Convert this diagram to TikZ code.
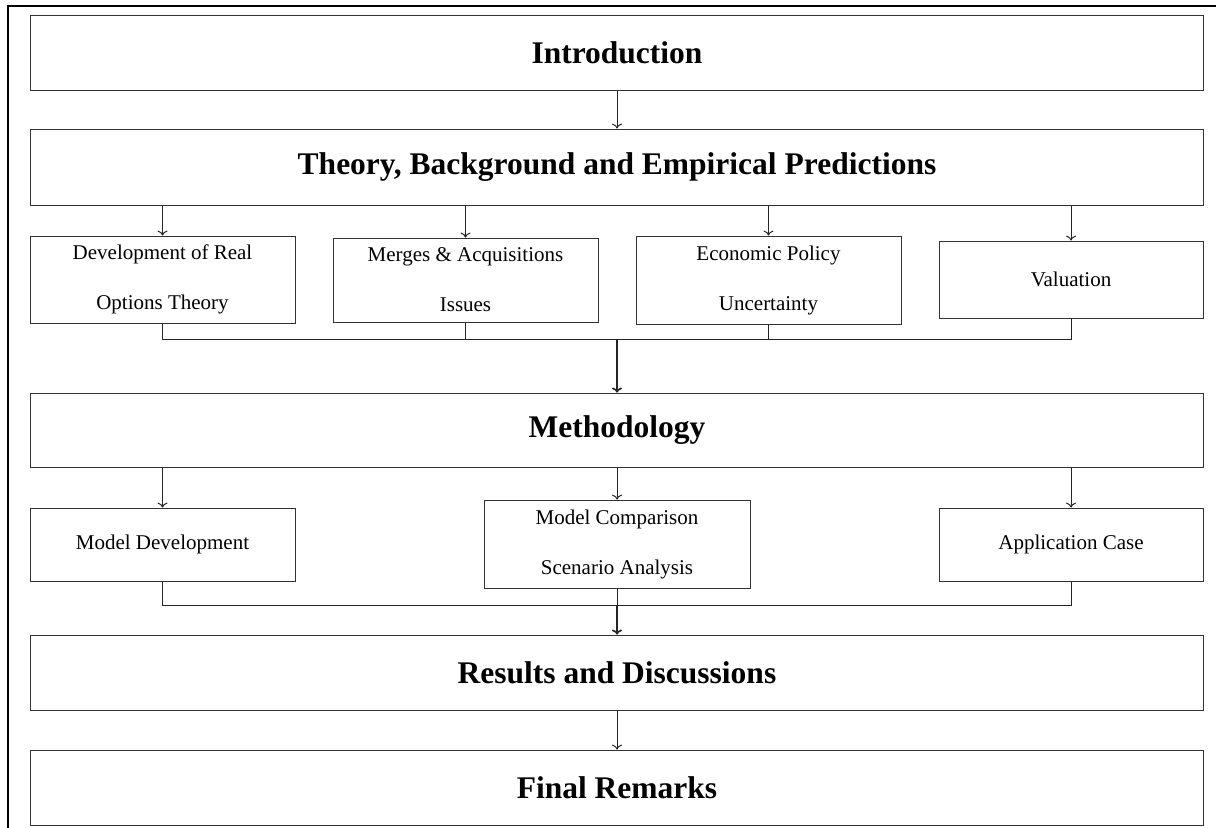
\documentclass[tikz,border=0pt]{standalone}
\usepackage{fontspec}
\setmainfont{Liberation Serif}
\usetikzlibrary{arrows.meta,calc}

\tikzset{
  bigbox/.style={draw=black!80, minimum width=586.5pt, minimum height=37.5pt, inner sep=0pt,
    font=\fontsize{15.75pt}{19pt}\selectfont\bfseries},
  subbox/.style={draw=black!80, minimum width=132.5pt, inner sep=0pt, align=center,
    font=\fontsize{10.5pt}{25pt}\selectfont},
  link/.style={draw=black!85, line width=0.5pt}
}

\begin{document}
\begin{tikzpicture}[x=0.5pt, y=-0.5pt, >={To[length=2.5pt,width=5pt]}]
  \useasboundingbox (0,0) rectangle (1216,828);
  \draw[black, line width=0.7pt] (8,828) -- (8,6) -- (1216,6);

  % main chapters
  \node[bigbox] (intro)  at (617,52.5) {Introduction};
  \node[bigbox, minimum height=38pt] (theory) at (617,167) {Theory, Background and Empirical Predictions};
  \node[bigbox, minimum height=37pt] (meth)   at (617,430) {Methodology};
  \node[bigbox] (res)    at (617,672.5) {Results and Discussions};
  \node[bigbox] (final)  at (617,787.5) {Final Remarks};

  % theory parts
  \node[subbox, minimum height=43.5pt] (dev) at (162.5,279.5) {Development of Real\\Options Theory};
  \node[subbox, minimum height=42pt]   (ma)  at (465.5,280)   {Merges \& Acquisitions\\Issues};
  \node[subbox, minimum height=44pt]   (epu) at (768.5,280)   {Economic Policy\\Uncertainty};
  \node[subbox, minimum height=38.5pt, minimum width=132pt] (val) at (1071,279.5) {Valuation};

  % methodology parts
  \node[subbox, minimum height=36.5pt] (mdev) at (162.5,544.5) {Model Development};
  \node[subbox, minimum height=44pt, minimum width=133pt] (mcomp) at (617,544) {Model Comparison\\Scenario Analysis};
  \node[subbox, minimum height=36.5pt, minimum width=132pt] (appl) at (1071,544.5) {Application Case};

  \coordinate (tbus) at (617,340);
  \coordinate (mbus) at (617,605);

  \path[link,->]
    (intro) edge (theory)
    (res) edge (final);
  \foreach \n in {dev,ma,epu,val}
    \draw[link,->] (theory.south -| \n.north) -- (\n.north);
  \foreach \n in {mdev,mcomp,appl}
    \draw[link,->] (meth.south -| \n.north) -- (\n.north);

  \draw[link] (dev.south) -- (dev.south |- tbus) -- (val.south |- tbus) -- (val.south);
  \draw[link] (ma.south) -- (ma.south |- tbus);
  \draw[link] (epu.south) -- (epu.south |- tbus);
  \draw[link,->,line width=0.8pt] (tbus) -- (meth.north);

  \draw[link] (mdev.south) -- (mdev.south |- mbus) -- (appl.south |- mbus) -- (appl.south);
  \draw[link] (mcomp.south) -- (mbus);
  \draw[link,->,line width=0.8pt] (mbus) -- (res.north);
\end{tikzpicture}
\end{document}
